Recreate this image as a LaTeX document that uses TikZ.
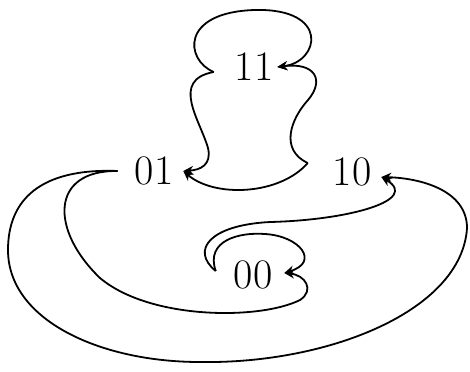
\documentclass[tikz,border=0pt]{standalone}
\usepackage{tikz}
\usetikzlibrary{arrows.meta}

\begin{document}
\begin{tikzpicture}[
        x=0.5pt, y=-0.5pt,
        state/.style={inner xsep=5pt, inner ysep=2pt, outer sep=0pt,
                      font=\fontsize{21}{21}\selectfont},
        edge/.style={-{Stealth[length=5pt,width=4.5pt]}, line width=0.9pt},
    ]
        \useasboundingbox (0,0) rectangle (470,371);

        %--- Zustaende ---
        \node[state] (n11) at (254,67)  {11};
        \node[state] (n01) at (154,171) {01};
        \node[state] (n10) at (352,172) {10};
        \node[state] (n00) at (253,275) {00};

        %--- oben ---
        \draw[edge] ([xshift=-5.5pt,yshift=-2.5pt]n11.west)
            .. controls (185,60) and (180,12) .. (255,10)
            .. controls (330,8) and (320,62) .. ([xshift=-3pt]n11.east);
        \draw[edge] ([xshift=-5.5pt,yshift=-2.5pt]n11.west)
            .. controls (170,80) and (200,120) .. (208,148)
            .. controls (212,165) and (200,170) .. (n01.east);
        \draw[edge] ([xshift=-7.5pt,yshift=4.5pt]n10.west)
            .. controls (280,150) and (290,120) .. (308,100)
            .. controls (325,80) and (315,62) .. ([xshift=-3pt]n11.east);
        \draw[edge] ([xshift=-7.5pt,yshift=4.5pt]n10.west)
            .. controls (280,195) and (215,198) .. (n01.east);

        %--- unten ---
        \draw[edge] ([xshift=-3.5pt]n01.west)
            .. controls (40,168) and (8,200) .. (8,250)
            .. controls (8,320) and (100,362) .. (200,362)
            .. controls (330,364) and (462,310) .. (467,228)
            .. controls (467,190) and (420,178) .. ([yshift=-2.5pt]n10.east);
        \draw[edge] ([xshift=-3.5pt]n01.west)
            .. controls (50,170) and (50,230) .. (100,278)
            .. controls (150,320) and (260,320) .. (300,300)
            .. controls (315,290) and (305,275) .. ([xshift=1pt,yshift=1pt]n00.east);
        \draw[edge] ([xshift=-4pt,yshift=2pt]n00.west)
            .. controls (205,240) and (240,232) .. (265,234)
            .. controls (300,236) and (320,262) .. ([xshift=1pt,yshift=1pt]n00.east);
        \draw[edge] ([xshift=-4pt,yshift=2pt]n00.west)
            .. controls (190,250) and (210,225) .. (270,222)
            .. controls (350,220) and (420,200) .. ([yshift=-2.5pt]n10.east);
    \end{tikzpicture}
\end{document}
